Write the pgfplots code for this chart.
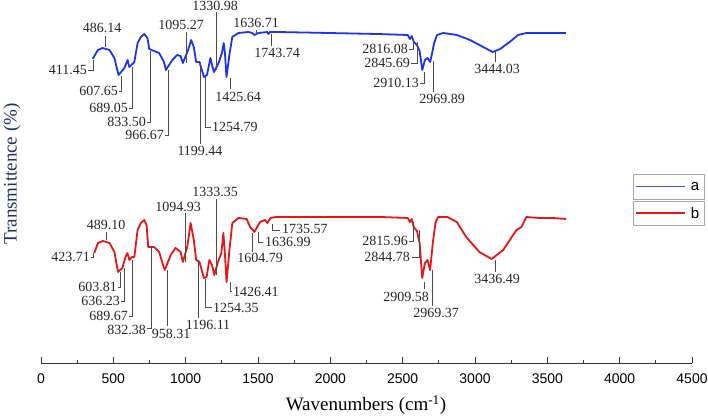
\documentclass[border=0pt]{standalone}
\usepackage{fontspec}
\setmainfont{Liberation Serif}
\setsansfont{Liberation Sans}
\usepackage{pgfplots}
\usepackage{pgfplotstable}
\pgfplotsset{compat=1.18}
\definecolor{specblue}{RGB}{28,52,235}
\definecolor{specred}{RGB}{232,22,22}
\definecolor{labnavy}{RGB}{31,50,100}

\pgfplotstableread{
w y
411 304
451 313
486 315
539 313
576 305
607.65 288
652 295
676 303
689 296
727 301
752 320
777 326
802 329
827 325
840 314
877 312
915 310
952 301
966.67 293
1015 303
1052 308
1078 307
1095.27 300
1135 313
1158 323
1178 316
1196 301
1221 301
1254.79 286
1278 288
1304 305
1320 296
1331 291
1366 300
1391 310
1405 320
1414 310
1425.64 286
1450 310
1470 326
1517 330
1592 331
1620 330
1636.71 328
1667 330
1735 331
1743.74 329
1755 331
1818 331
2200 330
2570 329
2800 328
2816 324
2830 327
2846 321
2870 318
2890 312
2910.13 293
2930 303
2950 305
2969.89 301
2985 310
3000 320
3022 328
3070 330
3172 328
3272 323
3372 316
3444.03 311
3500 314
3573 321
3636 328
3699 330
3800 330
3900 330
4000 330
}\specA

\pgfplotstableread{
w y
424 110
451 120
489 122
539 120
576 111
603.81 91
620 93
636.23 95
660 106
675 110
689.67 103
710 106
727 106
752 133
777 140
802 143
820 138
832.38 116
877 116
915 111
945 98
958.31 93
1003 108
1040 115
1078 111
1094.93 101
1128 116
1154 140
1178 123
1196.11 103
1221 101
1254.35 85
1275 86
1296 103
1316 98
1333.35 88
1361 101
1387 110
1402 130
1412 113
1426.41 81
1448 113
1470 140
1517 145
1579 144
1604.79 136
1636.99 131
1680 141
1718 143
1735.57 140
1760 145
1800 146
2200 146
2600 146
2800 145
2815.96 141
2830 144
2844.78 136
2870 132
2890 120
2909.58 85
2930 100
2950 103
2969.37 93
2990 120
3010 140
3030 146
3100 146
3172 141
3243 126
3343 111
3436.49 104
3524 113
3624 133
3662 136
3699 146
3800 145
3900 145
4000 144
}\specB

\tikzset{
  ann/.style={font=\fontsize{14}{14}\selectfont, inner sep=0pt, text=black!85},
  lead/.style={draw=black!70, line width=0.6pt}
}

\begin{document}
\begin{tikzpicture}
\path[use as bounding box] (0pt,0pt) rectangle (708pt,418pt);

% visible wavenumber axis
\begin{axis}[at={(41pt,55pt)}, anchor=south west, scale only axis,
  width=651pt, height=363pt,
  xmin=0, xmax=4500, ymin=0, ymax=363,
  axis x line*=bottom, axis y line=none,
  x axis line style={-, line width=0.9pt, draw=black!80},
  xtick={0,500,...,4500}, minor xtick={250,750,...,4250},
  tick align=inside, major tick length=6pt, minor tick length=3.5pt,
  every tick/.style={line width=0.9pt, black!80},
  xticklabel style={font=\sffamily\fontsize{14}{14}\selectfont, yshift=-7pt},
  /pgf/number format/1000 sep={}, /pgf/number format/assume math mode=true,
]
\end{axis}

% spectra
\begin{axis}[at={(41pt,55pt)}, anchor=south west, scale only axis,
  width=651pt, height=363pt,
  xmin=19.6, xmax=4955, ymin=0, ymax=363,
  hide axis, clip=false]
\addplot[specblue, line width=1.8pt, line join=round] table[x=w,y=y] {\specA};
\addplot[specred, line width=1.8pt, line join=round] table[x=w,y=y] {\specB};
\end{axis}

\begin{scope}[x=1pt, y=-1pt, shift={(0pt,418pt)}]
% annotations for a
\draw[lead] (93,60)--(93,70)--(88,70); \node[ann,anchor=east] at (87,70) {411.45};
\draw[lead] (105,47)--(105,36); \node[ann] at (102,28) {486.14};
\draw[lead] (121,76)--(121,91)--(119,91); \node[ann,anchor=east] at (118,91) {607.65};
\draw[lead] (132,67)--(132,108)--(129,108); \node[ann,anchor=east] at (128,108) {689.05};
\draw[lead] (150,51)--(150,122)--(147,122); \node[ann,anchor=east] at (146,122) {833.50};
\draw[lead] (168,70)--(168,135)--(165,135); \node[ann,anchor=east] at (164,135) {966.67};
\draw[lead] (200,62)--(200,144); \node[ann] at (200,151) {1199.44};
\draw[lead] (205,77)--(205,127)--(211,127); \node[ann,anchor=west] at (212,127) {1254.79};
\draw[lead] (186,32)--(186,63); \node[ann] at (181,25) {1095.27};
\draw[lead] (216,12)--(216,70); \node[ann] at (215,6) {1330.98};
\draw[lead] (230,78)--(230,89); \node[ann] at (238,97) {1425.64};
\draw[lead] (256,30)--(256,35); \node[ann] at (256,23) {1636.71};
\draw[lead] (271,34)--(271,46); \node[ann] at (277,53) {1743.74};
\draw[lead] (413,39)--(413,49)--(409,49); \node[ann,anchor=east] at (408,49) {2816.08};
\draw[lead] (417,42)--(417,63)--(411,63); \node[ann,anchor=east] at (410,63) {2845.69};
\draw[lead] (424,72)--(424,83)--(420,83); \node[ann,anchor=east] at (419,83) {2910.13};
\draw[lead] (433,61)--(433,92); \node[ann] at (442,99) {2969.89};
\draw[lead] (495,52)--(495,62); \node[ann] at (497,69) {3444.03};
% annotations for b
\draw[lead] (93,253)--(93,257)--(91,257); \node[ann,anchor=east] at (90,257) {423.71};
\draw[lead] (106,232)--(106,240); \node[ann] at (106,225) {489.10};
\draw[lead] (120,272)--(120,287)--(118,287); \node[ann,anchor=east] at (117,287) {603.81};
\draw[lead] (124,268)--(124,301)--(121,301); \node[ann,anchor=east] at (120,301) {636.23};
\draw[lead] (132,260)--(132,316)--(129,316); \node[ann,anchor=east] at (128,316) {689.67};
\draw[lead] (151,247)--(151,328)--(147,328); \node[ann,anchor=east] at (146,330) {832.38};
\draw[lead] (167,270)--(167,326); \node[ann] at (171,334) {958.31};
\draw[lead] (185,213)--(185,262); \node[ann] at (178,207) {1094.93};
\draw[lead] (216,199)--(216,275); \node[ann] at (215,192) {1333.35};
\draw[lead] (198,260)--(198,318); \node[ann] at (208,325) {1196.11};
\draw[lead] (205,279)--(205,307)--(212,307); \node[ann,anchor=west] at (213,308) {1254.35};
\draw[lead] (230,282)--(230,291)--(232,291); \node[ann,anchor=west] at (233,292) {1426.41};
\draw[lead] (252,233)--(252,252); \node[ann] at (260,258) {1604.79};
\draw[lead] (258,232)--(258,242)--(263,242); \node[ann,anchor=west] at (265,242) {1636.99};
\draw[lead] (272,224)--(272,230)--(280,230); \node[ann,anchor=west] at (282,229) {1735.57};
\draw[lead] (413,222)--(413,241)--(409,241); \node[ann,anchor=east] at (408,241) {2815.96};
\draw[lead] (419,230)--(419,257)--(412,257); \node[ann,anchor=east] at (410,257) {2844.78};
\draw[lead] (424,282)--(424,289); \node[ann] at (406,297) {2909.58};
\draw[lead] (432,270)--(432,306); \node[ann] at (436,313) {2969.37};
\draw[lead] (495,260)--(495,272); \node[ann] at (497,279) {3436.49};
% legend
\draw[gray!70, line width=0.9pt] (633,174) rectangle (704,199);
\draw[specblue!85!white, line width=1.3pt] (636,186.5)--(685,186.5);
\node[font=\sffamily\fontsize{15}{15}\selectfont, inner sep=0pt] at (695,186.5) {a};
\draw[gray!70, line width=0.9pt] (633,201) rectangle (704,225);
\draw[specred, line width=1.3pt] (636,213)--(685,213);
\node[font=\sffamily\fontsize{15}{15}\selectfont, inner sep=0pt] at (695,213) {b};
% axis titles
\node[rotate=90, font=\fontsize{19}{19}\selectfont, text=labnavy] at (12,174) {Transmittence (\%)};
\node[font=\fontsize{19}{19}\selectfont] at (366,405) {Wavenumbers (cm\textsuperscript{-1})};
\end{scope}
\end{tikzpicture}
\end{document}
